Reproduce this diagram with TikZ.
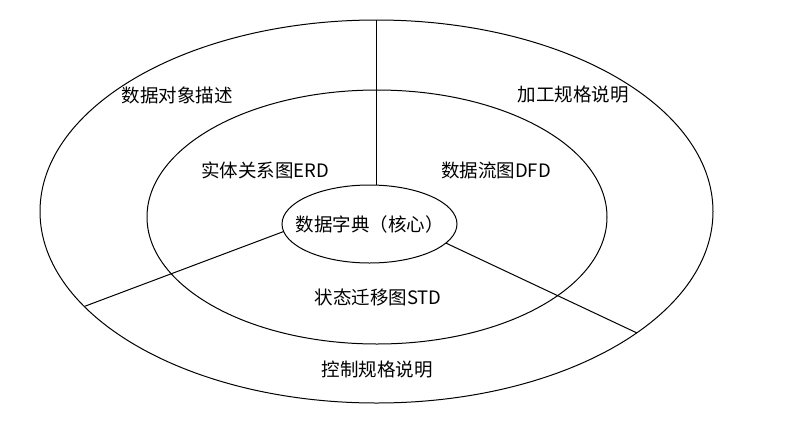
\documentclass[tikz,border=0pt]{standalone}
\usepackage{fontspec}
\setmainfont{Noto Sans CJK SC}
\usetikzlibrary{shapes.geometric,positioning}

\begin{document}
\begin{tikzpicture}[x=1pt,y=-1pt,
		ring/.style={draw,ellipse,line width=1pt,inner sep=0pt,outer sep=0pt},
		part/.style={font=\fontsize{18.5}{22}\selectfont,inner sep=0pt}]
	\useasboundingbox (0,0) rectangle (785,424);
	\node [ring,minimum width=673pt,minimum height=383pt] (outer) at (376.5,211.5) {};
	\node [ring,minimum width=460pt,minimum height=254pt] (middle) at (377,217) {};
	\node [ring,minimum width=175pt,minimum height=78pt] (core) at (369.5,224) {};
	\node [part] (dict) at (core.center) {数据字典（核心）};
	\draw [line width=1pt] (outer.north) -- (outer.north |- core.north);
	\draw [line width=1pt] (core.185) -- (outer.198.8);
	\draw [line width=1pt] (core.346) -- (outer.335.6);
	\node [part] (objdesc) at (177,95) {数据对象描述};
	\node [part] (procspec) at (573,95) {加工规格说明};
	\node [part] (erd) at (265,170) {实体关系图ERD};
	\node [part] (dfd) at (496,170) {数据流图DFD};
	\node [part] (std) at (378,297) {状态迁移图STD};
	\node [part] (ctrlspec) at (377,370) {控制规格说明};
\end{tikzpicture}
\end{document}
